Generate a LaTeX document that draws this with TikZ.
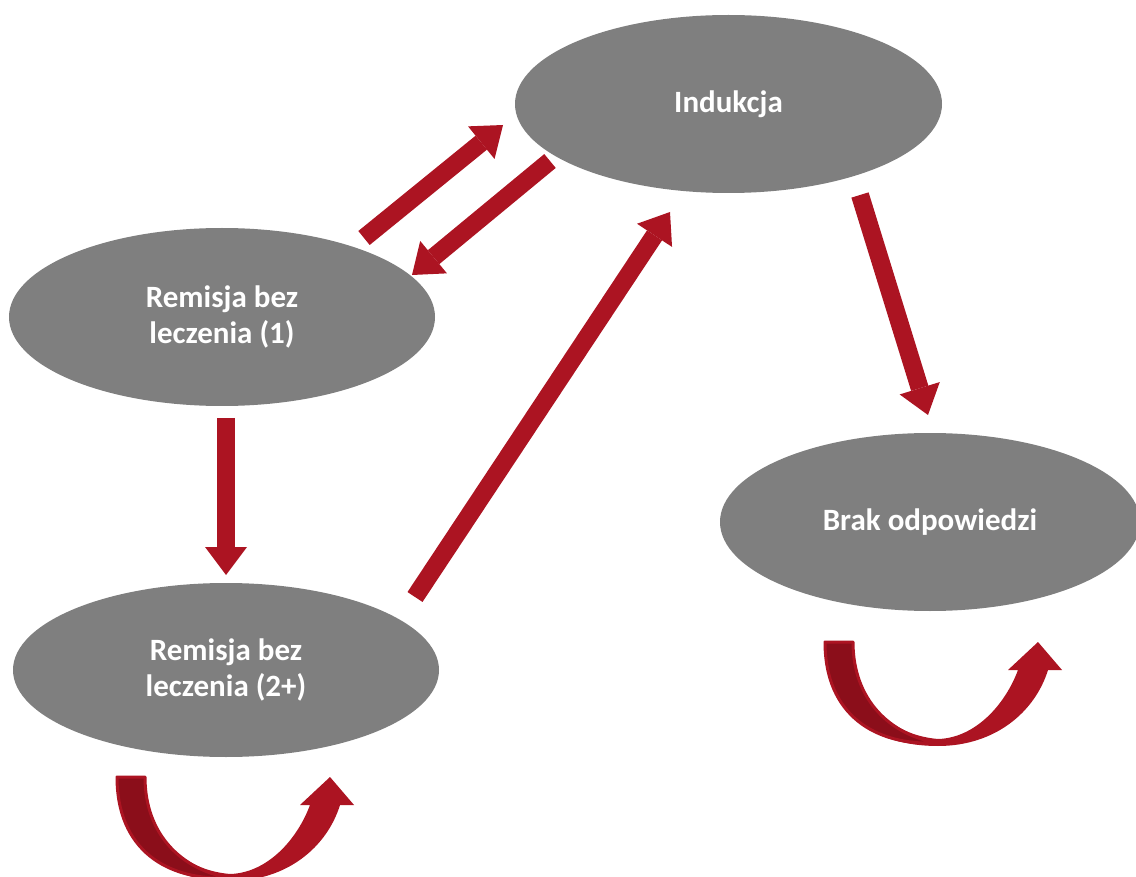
\documentclass[tikz,border=0pt]{standalone}
\usepackage{fontspec}
\setmainfont{Carlito}
\usetikzlibrary{arrows.meta,shapes.geometric}
\definecolor{nodegray}{RGB}{127,127,127}
\definecolor{arrowred}{RGB}{172,20,34}
\definecolor{arrowdark}{RGB}{139,14,26}
\begin{document}
\begin{tikzpicture}[x=1pt,y=-1pt,
  state/.style={ellipse, fill=nodegray, inner sep=0pt, text=white,
    font=\bfseries\fontsize{31}{36}\selectfont, align=center},
  blockarrow/.style={draw=arrowred, line width=18pt,
    -{Triangle[width=42pt,length=28pt,line width=0pt,fill=arrowred]}},
  selfloop/.pic={
    \fill[arrowred] (0,0) .. controls (0,73) and (50,104) .. (113,104)
      .. controls (170,104) and (210,70) .. (223,28)
      -- (237,28) -- (213,0) -- (183,28) -- (193,28)
      .. controls (180,63) and (150,96) .. (113,97)
      .. controls (65,93) and (28,58) .. (28,0) -- cycle;
    \filldraw[fill=arrowdark, draw=arrowred, line width=3pt, line join=round]
      (0,0) -- (28,0) .. controls (28,58) and (65,93) .. (113,101)
      .. controls (50,104) and (0,73) .. (0,0) -- cycle;
  }
]
\useasboundingbox (0,0) rectangle (1136,877);
\clip (0,0) rectangle (1136,877);

\node[state, minimum width=427pt, minimum height=178pt] (ind) at (728.5,104) {Indukcja};
\node[state, minimum width=426pt, minimum height=178pt] (rem1) at (222,317) {Remisja bez\\leczenia (1)};
\node[state, minimum width=426pt, minimum height=174pt] (rem2) at (226,670) {Remisja bez\\leczenia (2+)};
\node[state, minimum width=420pt, minimum height=178pt] (brak) at (930,522) {Brak odpowiedzi};

\coordinate (a1s) at (364,238); \coordinate (a1e) at (503,125);
\coordinate (a2s) at (550,161); \coordinate (a2e) at (412,275);
\coordinate (a3s) at (226,418); \coordinate (a3e) at (226,575);
\coordinate (a4s) at (415,597); \coordinate (a4e) at (670,212);
\coordinate (a5s) at (860,195); \coordinate (a5e) at (928,415);

\draw[blockarrow] (a1s) -- (a1e);
\draw[blockarrow] (a2s) -- (a2e);
\draw[blockarrow] (a3s) -- (a3e);
\draw[blockarrow] (a4s) -- (a4e);
\draw[blockarrow] (a5s) -- (a5e);

\pic at (825,642) {selfloop};
\pic at (117,777) {selfloop};
\end{tikzpicture}
\end{document}
